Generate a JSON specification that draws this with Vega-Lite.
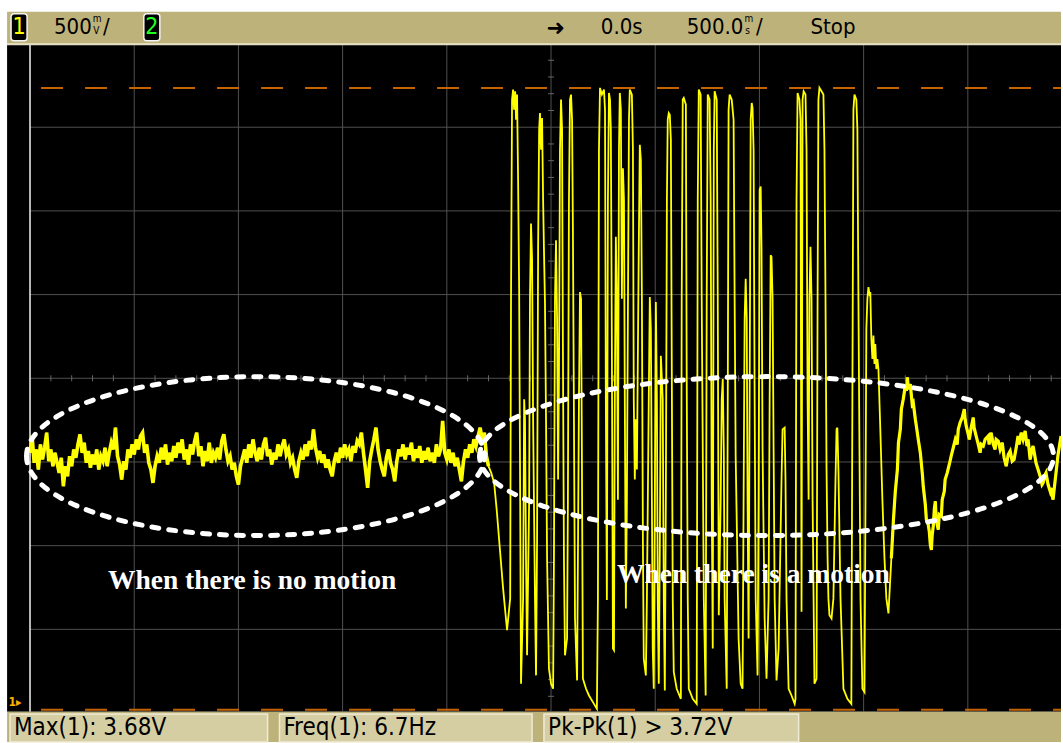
{
  "$schema": "https://vega.github.io/schema/vega-lite/v6.json",
  "width": 1063,
  "height": 743,
  "autosize": {"type": "fit", "contains": "padding"},
  "padding": 0,
  "background": "#ffffff",
  "config": {"view": {"stroke": null}},
  "datasets": {
    "trace": [
      {"t":-2.50,"v":1.50},{"t":-2.49,"v":1.60},{"t":-2.48,"v":1.44},{"t":-2.47,"v":1.52},{"t":-2.46,"v":1.40},{"t":-2.45,"v":1.55},{"t":-2.44,"v":1.46},{"t":-2.43,"v":1.53},{"t":-2.42,"v":1.62},{"t":-2.41,"v":1.45},
      {"t":-2.40,"v":1.52},{"t":-2.39,"v":1.42},{"t":-2.38,"v":1.50},{"t":-2.37,"v":1.44},{"t":-2.36,"v":1.38},{"t":-2.35,"v":1.47},{"t":-2.34,"v":1.30},{"t":-2.33,"v":1.42},{"t":-2.32,"v":1.36},{"t":-2.31,"v":1.48},
      {"t":-2.30,"v":1.42},{"t":-2.29,"v":1.52},{"t":-2.28,"v":1.47},{"t":-2.27,"v":1.55},{"t":-2.26,"v":1.61},{"t":-2.25,"v":1.50},{"t":-2.24,"v":1.56},{"t":-2.23,"v":1.44},{"t":-2.22,"v":1.51},{"t":-2.21,"v":1.41},
      {"t":-2.20,"v":1.49},{"t":-2.19,"v":1.43},{"t":-2.18,"v":1.52},{"t":-2.17,"v":1.40},{"t":-2.16,"v":1.48},{"t":-2.15,"v":1.45},{"t":-2.14,"v":1.53},{"t":-2.13,"v":1.42},{"t":-2.12,"v":1.50},{"t":-2.11,"v":1.56},
      {"t":-2.10,"v":1.52},{"t":-2.09,"v":1.65},{"t":-2.08,"v":1.48},{"t":-2.07,"v":1.43},{"t":-2.06,"v":1.34},{"t":-2.05,"v":1.45},{"t":-2.04,"v":1.40},{"t":-2.03,"v":1.52},{"t":-2.02,"v":1.47},{"t":-2.01,"v":1.55},
      {"t":-2.00,"v":1.49},{"t":-1.99,"v":1.58},{"t":-1.98,"v":1.52},{"t":-1.97,"v":1.60},{"t":-1.96,"v":1.62},{"t":-1.95,"v":1.50},{"t":-1.94,"v":1.55},{"t":-1.93,"v":1.44},{"t":-1.92,"v":1.40},{"t":-1.91,"v":1.32},
      {"t":-1.90,"v":1.42},{"t":-1.89,"v":1.48},{"t":-1.88,"v":1.44},{"t":-1.87,"v":1.53},{"t":-1.86,"v":1.46},{"t":-1.85,"v":1.55},{"t":-1.84,"v":1.43},{"t":-1.83,"v":1.50},{"t":-1.82,"v":1.45},{"t":-1.81,"v":1.54},
      {"t":-1.80,"v":1.47},{"t":-1.79,"v":1.56},{"t":-1.78,"v":1.50},{"t":-1.77,"v":1.58},{"t":-1.76,"v":1.46},{"t":-1.75,"v":1.52},{"t":-1.74,"v":1.43},{"t":-1.73,"v":1.55},{"t":-1.72,"v":1.49},{"t":-1.71,"v":1.57},
      {"t":-1.70,"v":1.62},{"t":-1.69,"v":1.48},{"t":-1.68,"v":1.54},{"t":-1.67,"v":1.42},{"t":-1.66,"v":1.51},{"t":-1.65,"v":1.45},{"t":-1.64,"v":1.56},{"t":-1.63,"v":1.44},{"t":-1.62,"v":1.50},{"t":-1.61,"v":1.47},
      {"t":-1.60,"v":1.53},{"t":-1.59,"v":1.46},{"t":-1.58,"v":1.57},{"t":-1.57,"v":1.61},{"t":-1.56,"v":1.52},{"t":-1.55,"v":1.45},{"t":-1.54,"v":1.48},{"t":-1.53,"v":1.40},{"t":-1.52,"v":1.44},{"t":-1.51,"v":1.36},
      {"t":-1.50,"v":1.31},{"t":-1.49,"v":1.42},{"t":-1.48,"v":1.47},{"t":-1.47,"v":1.52},{"t":-1.46,"v":1.44},{"t":-1.45,"v":1.55},{"t":-1.44,"v":1.47},{"t":-1.43,"v":1.58},{"t":-1.42,"v":1.50},{"t":-1.41,"v":1.45},
      {"t":-1.40,"v":1.53},{"t":-1.39,"v":1.46},{"t":-1.38,"v":1.55},{"t":-1.37,"v":1.59},{"t":-1.36,"v":1.48},{"t":-1.35,"v":1.52},{"t":-1.34,"v":1.43},{"t":-1.33,"v":1.50},{"t":-1.32,"v":1.46},{"t":-1.31,"v":1.55},
      {"t":-1.30,"v":1.48},{"t":-1.29,"v":1.54},{"t":-1.28,"v":1.58},{"t":-1.27,"v":1.49},{"t":-1.26,"v":1.52},{"t":-1.25,"v":1.44},{"t":-1.24,"v":1.47},{"t":-1.23,"v":1.40},{"t":-1.22,"v":1.35},{"t":-1.21,"v":1.45},
      {"t":-1.20,"v":1.50},{"t":-1.19,"v":1.46},{"t":-1.18,"v":1.55},{"t":-1.17,"v":1.48},{"t":-1.16,"v":1.57},{"t":-1.15,"v":1.52},{"t":-1.14,"v":1.64},{"t":-1.13,"v":1.53},{"t":-1.12,"v":1.47},{"t":-1.11,"v":1.51},
      {"t":-1.10,"v":1.44},{"t":-1.09,"v":1.49},{"t":-1.08,"v":1.41},{"t":-1.07,"v":1.46},{"t":-1.06,"v":1.40},{"t":-1.05,"v":1.36},{"t":-1.04,"v":1.45},{"t":-1.03,"v":1.50},{"t":-1.02,"v":1.44},{"t":-1.01,"v":1.53},
      {"t":-1.00,"v":1.47},{"t":-0.99,"v":1.55},{"t":-0.98,"v":1.49},{"t":-0.97,"v":1.52},{"t":-0.96,"v":1.45},{"t":-0.95,"v":1.54},{"t":-0.94,"v":1.50},{"t":-0.93,"v":1.57},{"t":-0.92,"v":1.55},{"t":-0.91,"v":1.62},
      {"t":-0.90,"v":1.50},{"t":-0.89,"v":1.40},{"t":-0.88,"v":1.29},{"t":-0.87,"v":1.45},{"t":-0.86,"v":1.52},{"t":-0.85,"v":1.58},{"t":-0.84,"v":1.65},{"t":-0.83,"v":1.52},{"t":-0.82,"v":1.45},{"t":-0.81,"v":1.40},
      {"t":-0.80,"v":1.36},{"t":-0.79,"v":1.47},{"t":-0.78,"v":1.52},{"t":-0.77,"v":1.44},{"t":-0.76,"v":1.40},{"t":-0.75,"v":1.33},{"t":-0.74,"v":1.45},{"t":-0.73,"v":1.52},{"t":-0.72,"v":1.48},{"t":-0.71,"v":1.55},
      {"t":-0.70,"v":1.46},{"t":-0.69,"v":1.53},{"t":-0.68,"v":1.49},{"t":-0.67,"v":1.56},{"t":-0.66,"v":1.45},{"t":-0.65,"v":1.52},{"t":-0.64,"v":1.47},{"t":-0.63,"v":1.54},{"t":-0.62,"v":1.44},{"t":-0.61,"v":1.51},
      {"t":-0.60,"v":1.46},{"t":-0.59,"v":1.53},{"t":-0.58,"v":1.45},{"t":-0.57,"v":1.50},{"t":-0.56,"v":1.44},{"t":-0.55,"v":1.55},{"t":-0.54,"v":1.48},{"t":-0.53,"v":1.52},{"t":-0.52,"v":1.69},{"t":-0.51,"v":1.50},
      {"t":-0.50,"v":1.46},{"t":-0.49,"v":1.52},{"t":-0.48,"v":1.44},{"t":-0.47,"v":1.50},{"t":-0.46,"v":1.42},{"t":-0.45,"v":1.47},{"t":-0.44,"v":1.40},{"t":-0.43,"v":1.33},{"t":-0.42,"v":1.45},{"t":-0.41,"v":1.52},
      {"t":-0.40,"v":1.47},{"t":-0.39,"v":1.55},{"t":-0.38,"v":1.50},{"t":-0.37,"v":1.58},{"t":-0.36,"v":1.54},{"t":-0.35,"v":1.60},{"t":-0.34,"v":1.65},{"t":-0.33,"v":1.57},{"t":-0.32,"v":1.62},{"t":-0.31,"v":1.48},
      {"t":-0.30,"v":1.42},{"t":-0.287,"v":1.38},{"t":-0.273,"v":1.32},{"t":-0.26,"v":1.15},{"t":-0.249,"v":0.98},{"t":-0.23,"v":0.69},{"t":-0.211,"v":0.44},
      {"t":-0.196,"v":0.63},{"t":-0.192,"v":2.42},{"t":-0.187,"v":3.61},{"t":-0.182,"v":3.67},{"t":-0.177,"v":3.55},{"t":-0.172,"v":3.66},{"t":-0.168,"v":3.49},{"t":-0.163,"v":3.64},{"t":-0.158,"v":3.13},{"t":-0.153,"v":2.48},
      {"t":-0.148,"v":1.22},{"t":-0.144,"v":0.12},{"t":-0.134,"v":0.63},{"t":-0.129,"v":1.82},{"t":-0.125,"v":1.70},{"t":-0.120,"v":0.87},{"t":-0.115,"v":0.29},{"t":-0.105,"v":1.22},{"t":-0.101,"v":2.42},{"t":-0.096,"v":2.87},
      {"t":-0.091,"v":2.66},{"t":-0.086,"v":1.70},{"t":-0.077,"v":0.63},{"t":-0.072,"v":0.17},{"t":-0.067,"v":0.98},{"t":-0.062,"v":2.72},{"t":-0.057,"v":3.43},{"t":-0.053,"v":3.53},{"t":-0.048,"v":3.31},{"t":-0.043,"v":3.50},
      {"t":-0.038,"v":3.01},{"t":-0.034,"v":2.72},{"t":-0.029,"v":2.39},{"t":-0.024,"v":1.70},{"t":-0.019,"v":0.87},{"t":-0.010,"v":0.21},{"t":0.0,"v":0.12},{"t":0.010,"v":0.09},{"t":0.014,"v":0.87},{"t":0.019,"v":2.42},
      {"t":0.024,"v":2.77},{"t":0.029,"v":2.30},{"t":0.034,"v":1.34},{"t":0.038,"v":1.94},{"t":0.043,"v":3.31},{"t":0.048,"v":3.61},{"t":0.053,"v":3.43},{"t":0.057,"v":2.12},{"t":0.062,"v":0.87},{"t":0.067,"v":0.29},
      {"t":0.077,"v":0.39},{"t":0.081,"v":1.22},{"t":0.086,"v":3.01},{"t":0.091,"v":3.61},{"t":0.096,"v":3.64},{"t":0.101,"v":3.49},{"t":0.105,"v":2.83},{"t":0.110,"v":1.70},{"t":0.115,"v":0.51},{"t":0.125,"v":0.14},
      {"t":0.129,"v":0.87},{"t":0.134,"v":1.82},{"t":0.139,"v":2.46},{"t":0.144,"v":2.42},{"t":0.148,"v":1.52},{"t":0.153,"v":0.15},{"t":0.168,"v":0.09},{"t":0.182,"v":0.05},{"t":0.201,"v":0.01},{"t":0.220,"v":-0.03},
      {"t":0.225,"v":0.63},{"t":0.230,"v":3.31},{"t":0.235,"v":3.68},{"t":0.244,"v":3.64},{"t":0.254,"v":3.67},{"t":0.259,"v":3.55},{"t":0.263,"v":1.82},{"t":0.268,"v":0.62},{"t":0.273,"v":3.01},{"t":0.278,"v":3.65},
      {"t":0.283,"v":3.61},{"t":0.287,"v":3.43},{"t":0.292,"v":2.12},{"t":0.297,"v":0.33},{"t":0.302,"v":0.32},{"t":0.306,"v":1.82},{"t":0.311,"v":2.79},{"t":0.316,"v":2.42},{"t":0.321,"v":1.22},{"t":0.326,"v":3.31},
      {"t":0.330,"v":3.65},{"t":0.335,"v":3.55},{"t":0.340,"v":2.42},{"t":0.345,"v":3.20},{"t":0.350,"v":3.01},{"t":0.354,"v":1.82},{"t":0.359,"v":0.57},{"t":0.364,"v":1.22},{"t":0.374,"v":3.49},{"t":0.378,"v":3.67},
      {"t":0.388,"v":3.64},{"t":0.393,"v":3.31},{"t":0.397,"v":1.82},{"t":0.402,"v":1.34},{"t":0.407,"v":1.70},{"t":0.412,"v":1.40},{"t":0.421,"v":2.72},{"t":0.426,"v":3.34},{"t":0.431,"v":3.25},{"t":0.436,"v":2.42},
      {"t":0.441,"v":0.92},{"t":0.445,"v":0.27},{"t":0.455,"v":0.17},{"t":0.460,"v":0.63},{"t":0.469,"v":1.82},{"t":0.474,"v":2.43},{"t":0.479,"v":2.24},{"t":0.484,"v":1.22},{"t":0.488,"v":0.33},{"t":0.493,"v":0.09},
      {"t":0.498,"v":1.22},{"t":0.503,"v":2.40},{"t":0.508,"v":1.82},{"t":0.512,"v":0.63},{"t":0.517,"v":0.12},{"t":0.522,"v":0.92},{"t":0.527,"v":2.08},{"t":0.532,"v":1.94},{"t":0.536,"v":1.82},{"t":0.541,"v":0.63},
      {"t":0.546,"v":0.08},{"t":0.551,"v":1.22},{"t":0.556,"v":3.01},{"t":0.560,"v":3.49},{"t":0.565,"v":3.53},{"t":0.570,"v":3.52},{"t":0.575,"v":3.37},{"t":0.579,"v":2.12},{"t":0.584,"v":0.63},{"t":0.589,"v":0.19},
      {"t":0.603,"v":0.09},{"t":0.623,"v":0.03},{"t":0.627,"v":2.42},{"t":0.632,"v":3.61},{"t":0.637,"v":3.62},{"t":0.647,"v":3.58},{"t":0.651,"v":1.94},{"t":0.656,"v":0.63},{"t":0.661,"v":0.09},{"t":0.680,"v":0.03},
      {"t":0.699,"v":0.0},{"t":0.704,"v":3.01},{"t":0.709,"v":3.67},{"t":0.718,"v":3.64},{"t":0.723,"v":2.42},{"t":0.733,"v":0.63},{"t":0.742,"v":0.05},{"t":0.747,"v":2.42},{"t":0.752,"v":3.64},{"t":0.761,"v":3.61},
      {"t":0.766,"v":3.01},{"t":0.771,"v":1.22},{"t":0.776,"v":0.33},{"t":0.781,"v":3.31},{"t":0.785,"v":3.66},{"t":0.795,"v":3.61},{"t":0.800,"v":2.42},{"t":0.805,"v":0.53},{"t":0.814,"v":1.22},{"t":0.819,"v":1.82},
      {"t":0.824,"v":1.94},{"t":0.829,"v":1.52},{"t":0.833,"v":0.63},{"t":0.843,"v":0.09},{"t":0.848,"v":1.82},{"t":0.852,"v":3.55},{"t":0.857,"v":3.64},{"t":0.867,"v":3.61},{"t":0.876,"v":3.49},{"t":0.881,"v":2.42},
      {"t":0.886,"v":1.48},{"t":0.891,"v":1.10},{"t":0.900,"v":0.39},{"t":0.910,"v":0.12},{"t":0.919,"v":0.09},{"t":0.924,"v":1.22},{"t":0.929,"v":2.30},{"t":0.934,"v":2.54},{"t":0.939,"v":2.30},{"t":0.943,"v":1.22},
      {"t":0.948,"v":0.39},{"t":0.953,"v":1.82},{"t":0.958,"v":3.49},{"t":0.963,"v":3.59},{"t":0.967,"v":3.56},{"t":0.972,"v":3.31},{"t":0.977,"v":1.82},{"t":0.982,"v":0.63},{"t":0.991,"v":0.17},{"t":0.996,"v":1.22},
      {"t":1.001,"v":3.07},{"t":1.006,"v":3.09},{"t":1.010,"v":2.72},{"t":1.015,"v":1.52},{"t":1.025,"v":0.51},{"t":1.034,"v":0.15},{"t":1.044,"v":0.63},{"t":1.049,"v":1.82},{"t":1.054,"v":2.68},{"t":1.058,"v":2.67},
      {"t":1.063,"v":2.42},{"t":1.068,"v":1.52},{"t":1.073,"v":0.63},{"t":1.082,"v":0.14},{"t":1.092,"v":0.33},{"t":1.106,"v":1.34},{"t":1.111,"v":1.64},{"t":1.121,"v":1.65},{"t":1.125,"v":1.34},{"t":1.130,"v":0.63},
      {"t":1.140,"v":0.09},{"t":1.154,"v":0.05},{"t":1.169,"v":0.0},{"t":1.173,"v":0.03},{"t":1.178,"v":3.01},{"t":1.183,"v":3.65},{"t":1.192,"v":3.61},{"t":1.197,"v":3.49},{"t":1.202,"v":0.55},{"t":1.207,"v":3.61},
      {"t":1.212,"v":3.66},{"t":1.221,"v":3.64},{"t":1.226,"v":3.31},{"t":1.231,"v":1.82},{"t":1.236,"v":1.22},{"t":1.240,"v":2.42},{"t":1.245,"v":2.73},{"t":1.250,"v":2.42},{"t":1.255,"v":1.22},{"t":1.264,"v":0.12},
      {"t":1.274,"v":0.15},{"t":1.279,"v":2.42},{"t":1.283,"v":3.61},{"t":1.288,"v":3.68},{"t":1.298,"v":3.66},{"t":1.307,"v":3.64},{"t":1.312,"v":3.31},{"t":1.317,"v":2.42},{"t":1.322,"v":1.40},{"t":1.327,"v":0.87},
      {"t":1.331,"v":0.63},{"t":1.336,"v":0.53},{"t":1.346,"v":0.51},{"t":1.355,"v":0.63},{"t":1.365,"v":1.34},{"t":1.370,"v":1.64},{"t":1.374,"v":1.65},{"t":1.379,"v":1.40},{"t":1.389,"v":0.63},{"t":1.403,"v":0.09},
      {"t":1.422,"v":0.03},{"t":1.441,"v":0.0},{"t":1.446,"v":1.82},{"t":1.451,"v":3.55},{"t":1.456,"v":3.64},{"t":1.465,"v":3.61},{"t":1.470,"v":3.43},{"t":1.475,"v":2.42},{"t":1.480,"v":1.52},{"t":1.485,"v":0.63},
      {"t":1.494,"v":0.09},{"t":1.504,"v":0.07},{"t":1.509,"v":1.22},{"t":1.513,"v":2.24},{"t":1.518,"v":2.42},{"t":1.523,"v":2.49},{"t":1.528,"v":2.45},{"t":1.532,"v":2.46},{"t":1.537,"v":2.18},{"t":1.542,"v":2.06},
      {"t":1.547,"v":2.20},{"t":1.552,"v":2.03},{"t":1.556,"v":2.15},{"t":1.561,"v":2.00},{"t":1.566,"v":2.06},{"t":1.571,"v":2.00},{"t":1.580,"v":1.64},{"t":1.590,"v":1.22},{"t":1.600,"v":0.87},{"t":1.609,"v":0.63},
      {"t":1.619,"v":0.54},{"t":1.633,"v":0.87},{"t":1.643,"v":1.10},{"t":1.652,"v":1.27},{"t":1.662,"v":1.40},{"t":1.667,"v":1.56},{"t":1.676,"v":1.64},{"t":1.681,"v":1.76},{"t":1.690,"v":1.82},{"t":1.700,"v":1.90},
      {"t":1.705,"v":1.87},{"t":1.710,"v":1.95},{"t":1.714,"v":1.88},{"t":1.724,"v":1.91},{"t":1.733,"v":1.79},{"t":1.738,"v":1.80},{"t":1.748,"v":1.70},{"t":1.753,"v":1.66},{"t":1.762,"v":1.58},{"t":1.772,"v":1.50},
      {"t":1.782,"v":1.37},{"t":1.786,"v":1.30},{"t":1.796,"v":1.19},{"t":1.801,"v":1.10},{"t":1.810,"v":1.07},{"t":1.815,"v":1.03},{"t":1.820,"v":0.95},{"t":1.825,"v":0.92},{"t":1.829,"v":1.01},{"t":1.834,"v":1.06},
      {"t":1.839,"v":1.16},{"t":1.844,"v":1.21},{"t":1.848,"v":1.10},{"t":1.858,"v":1.04},{"t":1.863,"v":1.13},{"t":1.873,"v":1.12},{"t":1.877,"v":1.22},{"t":1.887,"v":1.27},{"t":1.891,"v":1.34},{"t":1.901,"v":1.38},
      {"t":1.911,"v":1.43},{"t":1.920,"v":1.48},{"t":1.930,"v":1.53},{"t":1.940,"v":1.58},{"t":1.949,"v":1.55},{"t":1.954,"v":1.64},{"t":1.963,"v":1.68},{"t":1.973,"v":1.71},{"t":1.983,"v":1.76},{"t":1.987,"v":1.70},
      {"t":1.992,"v":1.66},{"t":2.002,"v":1.61},{"t":2.007,"v":1.58},{"t":2.016,"v":1.65},{"t":2.026,"v":1.71},{"t":2.030,"v":1.65},{"t":2.040,"v":1.60},{"t":2.050,"v":1.55},{"t":2.059,"v":1.50},{"t":2.064,"v":1.55},
      {"t":2.074,"v":1.54},{"t":2.083,"v":1.58},{"t":2.098,"v":1.60},{"t":2.102,"v":1.55},{"t":2.112,"v":1.62},{"t":2.122,"v":1.55},{"t":2.131,"v":1.52},{"t":2.136,"v":1.58},{"t":2.146,"v":1.57},{"t":2.155,"v":1.52},
      {"t":2.165,"v":1.56},{"t":2.174,"v":1.47},{"t":2.184,"v":1.42},{"t":2.194,"v":1.49},{"t":2.203,"v":1.51},{"t":2.213,"v":1.45},{"t":2.222,"v":1.46},{"t":2.232,"v":1.53},{"t":2.241,"v":1.60},{"t":2.246,"v":1.55},
      {"t":2.256,"v":1.62},{"t":2.265,"v":1.58},{"t":2.275,"v":1.63},{"t":2.284,"v":1.54},{"t":2.289,"v":1.58},{"t":2.299,"v":1.46},{"t":2.308,"v":1.52},{"t":2.313,"v":1.54},{"t":2.323,"v":1.47},{"t":2.327,"v":1.44},
      {"t":2.337,"v":1.40},{"t":2.347,"v":1.36},{"t":2.356,"v":1.31},{"t":2.361,"v":1.32},{"t":2.371,"v":1.37},{"t":2.375,"v":1.38},{"t":2.385,"v":1.31},{"t":2.395,"v":1.27},{"t":2.399,"v":1.29},{"t":2.409,"v":1.22},
      {"t":2.414,"v":1.28},{"t":2.423,"v":1.38},{"t":2.433,"v":1.49},{"t":2.442,"v":1.56},{"t":2.447,"v":1.60}
    ],
    "hticks": [
      {"t":-2.4,"v0":1.927,"v1":1.963},{"t":-2.3,"v0":1.927,"v1":1.963},{"t":-2.2,"v0":1.927,"v1":1.963},{"t":-2.1,"v0":1.927,"v1":1.963},
      {"t":-1.9,"v0":1.927,"v1":1.963},{"t":-1.8,"v0":1.927,"v1":1.963},{"t":-1.7,"v0":1.927,"v1":1.963},{"t":-1.6,"v0":1.927,"v1":1.963},
      {"t":-1.4,"v0":1.927,"v1":1.963},{"t":-1.3,"v0":1.927,"v1":1.963},{"t":-1.2,"v0":1.927,"v1":1.963},{"t":-1.1,"v0":1.927,"v1":1.963},
      {"t":-0.9,"v0":1.927,"v1":1.963},{"t":-0.8,"v0":1.927,"v1":1.963},{"t":-0.7,"v0":1.927,"v1":1.963},{"t":-0.6,"v0":1.927,"v1":1.963},
      {"t":-0.4,"v0":1.927,"v1":1.963},{"t":-0.3,"v0":1.927,"v1":1.963},{"t":-0.2,"v0":1.927,"v1":1.963},{"t":-0.1,"v0":1.927,"v1":1.963},
      {"t":0.1,"v0":1.927,"v1":1.963},{"t":0.2,"v0":1.927,"v1":1.963},{"t":0.3,"v0":1.927,"v1":1.963},{"t":0.4,"v0":1.927,"v1":1.963},
      {"t":0.6,"v0":1.927,"v1":1.963},{"t":0.7,"v0":1.927,"v1":1.963},{"t":0.8,"v0":1.927,"v1":1.963},{"t":0.9,"v0":1.927,"v1":1.963},
      {"t":1.1,"v0":1.927,"v1":1.963},{"t":1.2,"v0":1.927,"v1":1.963},{"t":1.3,"v0":1.927,"v1":1.963},{"t":1.4,"v0":1.927,"v1":1.963},
      {"t":1.6,"v0":1.927,"v1":1.963},{"t":1.7,"v0":1.927,"v1":1.963},{"t":1.8,"v0":1.927,"v1":1.963},{"t":1.9,"v0":1.927,"v1":1.963},
      {"t":2.1,"v0":1.927,"v1":1.963},{"t":2.2,"v0":1.927,"v1":1.963},{"t":2.3,"v0":1.927,"v1":1.963},{"t":2.4,"v0":1.927,"v1":1.963}
    ],
    "vticks": [
      {"v":0.045,"t0":-0.0144,"t1":0.0144},{"v":0.145,"t0":-0.0144,"t1":0.0144},{"v":0.245,"t0":-0.0144,"t1":0.0144},{"v":0.345,"t0":-0.0144,"t1":0.0144},
      {"v":0.545,"t0":-0.0144,"t1":0.0144},{"v":0.645,"t0":-0.0144,"t1":0.0144},{"v":0.745,"t0":-0.0144,"t1":0.0144},{"v":0.845,"t0":-0.0144,"t1":0.0144},
      {"v":1.045,"t0":-0.0144,"t1":0.0144},{"v":1.145,"t0":-0.0144,"t1":0.0144},{"v":1.245,"t0":-0.0144,"t1":0.0144},{"v":1.345,"t0":-0.0144,"t1":0.0144},
      {"v":1.545,"t0":-0.0144,"t1":0.0144},{"v":1.645,"t0":-0.0144,"t1":0.0144},{"v":1.745,"t0":-0.0144,"t1":0.0144},{"v":1.845,"t0":-0.0144,"t1":0.0144},
      {"v":2.045,"t0":-0.0144,"t1":0.0144},{"v":2.145,"t0":-0.0144,"t1":0.0144},{"v":2.245,"t0":-0.0144,"t1":0.0144},{"v":2.345,"t0":-0.0144,"t1":0.0144},
      {"v":2.545,"t0":-0.0144,"t1":0.0144},{"v":2.645,"t0":-0.0144,"t1":0.0144},{"v":2.745,"t0":-0.0144,"t1":0.0144},{"v":2.845,"t0":-0.0144,"t1":0.0144},
      {"v":3.045,"t0":-0.0144,"t1":0.0144},{"v":3.145,"t0":-0.0144,"t1":0.0144},{"v":3.245,"t0":-0.0144,"t1":0.0144},{"v":3.345,"t0":-0.0144,"t1":0.0144},
      {"v":3.545,"t0":-0.0144,"t1":0.0144},{"v":3.645,"t0":-0.0144,"t1":0.0144},{"v":3.745,"t0":-0.0144,"t1":0.0144},{"v":3.845,"t0":-0.0144,"t1":0.0144}
    ]
  },
  "layer": [
    {
      "data": {"values": [{"t0":-2.61,"t1":2.447,"v0":-0.048,"v1":3.938}]},
      "mark": {"type": "rect", "fill": "#000000"},
      "encoding": {
        "x": {"field": "t0", "type": "quantitative", "scale": {"domain": [-2.644, 2.447], "nice": false, "zero": false}, "axis": null},
        "x2": {"field": "t1"},
        "y": {"field": "v0", "type": "quantitative", "scale": {"domain": [-0.228, 4.205], "nice": false, "zero": false}, "axis": null},
        "y2": {"field": "v1"}
      }
    },
    {
      "data": {"values": [{"t":-2.0,"v0":-0.048,"v1":3.938},{"t":-1.5,"v0":-0.048,"v1":3.938},{"t":-1.0,"v0":-0.048,"v1":3.938},{"t":-0.5,"v0":-0.048,"v1":3.938},{"t":0.0,"v0":-0.048,"v1":3.938},{"t":0.5,"v0":-0.048,"v1":3.938},{"t":1.0,"v0":-0.048,"v1":3.938},{"t":1.5,"v0":-0.048,"v1":3.938},{"t":2.0,"v0":-0.048,"v1":3.938}]},
      "mark": {"type": "rule", "stroke": "#505050", "strokeWidth": 1},
      "encoding": {
        "x": {"field": "t", "type": "quantitative", "axis": null},
        "y": {"field": "v0", "type": "quantitative", "axis": null},
        "y2": {"field": "v1"}
      }
    },
    {
      "data": {"values": [{"v":3.445,"t0":-2.5,"t1":2.447},{"v":2.945,"t0":-2.5,"t1":2.447},{"v":2.445,"t0":-2.5,"t1":2.447},{"v":1.945,"t0":-2.5,"t1":2.447},{"v":1.445,"t0":-2.5,"t1":2.447},{"v":0.945,"t0":-2.5,"t1":2.447},{"v":0.445,"t0":-2.5,"t1":2.447}]},
      "mark": {"type": "rule", "stroke": "#505050", "strokeWidth": 1},
      "encoding": {
        "x": {"field": "t0", "type": "quantitative", "axis": null},
        "x2": {"field": "t1"},
        "y": {"field": "v", "type": "quantitative", "axis": null}
      }
    },
    {
      "data": {"name": "hticks"},
      "mark": {"type": "rule", "stroke": "#666666", "strokeWidth": 1},
      "encoding": {
        "x": {"field": "t", "type": "quantitative", "axis": null},
        "y": {"field": "v0", "type": "quantitative", "axis": null},
        "y2": {"field": "v1"}
      }
    },
    {
      "data": {"name": "vticks"},
      "mark": {"type": "rule", "stroke": "#666666", "strokeWidth": 1},
      "encoding": {
        "x": {"field": "t0", "type": "quantitative", "axis": null},
        "x2": {"field": "t1"},
        "y": {"field": "v", "type": "quantitative", "axis": null}
      }
    },
    {
      "data": {"values": [{"t":-2.5,"v0":-0.048,"v1":3.938}]},
      "mark": {"type": "rule", "stroke": "#f2f2f2", "strokeWidth": 1.5},
      "encoding": {
        "x": {"field": "t", "type": "quantitative", "axis": null},
        "y": {"field": "v0", "type": "quantitative", "axis": null},
        "y2": {"field": "v1"}
      }
    },
    {
      "data": {"values": [{"v":3.68,"t0":-2.447,"t1":2.447},{"v":-0.035,"t0":-2.447,"t1":2.447}]},
      "mark": {"type": "rule", "stroke": "#c86400", "strokeWidth": 2, "strokeDash": [22, 22]},
      "encoding": {
        "x": {"field": "t0", "type": "quantitative", "axis": null},
        "x2": {"field": "t1"},
        "y": {"field": "v", "type": "quantitative", "axis": null}
      }
    },
    {
      "data": {"name": "trace"},
      "mark": {"type": "line", "stroke": "#ffff00", "strokeWidth": 1.8, "clip": true},
      "encoding": {
        "x": {"field": "t", "type": "quantitative", "axis": null},
        "y": {"field": "v", "type": "quantitative", "axis": null}
      }
    },
    {
      "data": {"name": "trace"},
      "transform": [{"filter": "datum.t <= -0.3"}],
      "mark": {"type": "line", "stroke": "#ffff00", "strokeWidth": 3.6, "clip": true},
      "encoding": {
        "x": {"field": "t", "type": "quantitative", "axis": null},
        "y": {"field": "v", "type": "quantitative", "axis": null}
      }
    },
    {
      "data": {"name": "trace"},
      "transform": [{"filter": "datum.t >= 1.62"}],
      "mark": {"type": "line", "stroke": "#ffff00", "strokeWidth": 3.2, "clip": true},
      "encoding": {
        "x": {"field": "t", "type": "quantitative", "axis": null},
        "y": {"field": "v", "type": "quantitative", "axis": null}
      }
    },
    {
      "data": {"values": [{"t":-1.418,"v":1.48}]},
      "mark": {"type": "point", "shape": "M-1,0 C-1,-0.192 -0.552,-0.347 0,-0.347 C0.552,-0.347 1,-0.192 1,0 C1,0.192 0.552,0.347 0,0.347 C-0.552,0.347 -1,0.192 -1,0 Z", "size": 209764, "filled": false, "stroke": "#ffffff", "strokeWidth": 5, "strokeDash": [7, 10], "strokeCap": "round", "opacity": 1},
      "encoding": {
        "x": {"field": "t", "type": "quantitative", "axis": null},
        "y": {"field": "v", "type": "quantitative", "axis": null}
      }
    },
    {
      "data": {"values": [{"t":1.034,"v":1.48}]},
      "mark": {"type": "point", "shape": "M-1,0 C-1,-0.153 -0.552,-0.277 0,-0.277 C0.552,-0.277 1,-0.153 1,0 C1,0.153 0.552,0.277 0,0.277 C-0.552,0.277 -1,0.153 -1,0 Z", "size": 329476, "filled": false, "stroke": "#ffffff", "strokeWidth": 5, "strokeDash": [7, 10], "strokeCap": "round", "opacity": 1},
      "encoding": {
        "x": {"field": "t", "type": "quantitative", "axis": null},
        "y": {"field": "v", "type": "quantitative", "axis": null}
      }
    },
    {
      "data": {"values": [{"t":-2.126,"v":0.686,"label":"When there is no motion"},{"t":0.316,"v":0.722,"label":"When there is a motion"}]},
      "mark": {"type": "text", "align": "left", "baseline": "alphabetic", "font": "Liberation Serif", "fontWeight": "bold", "fontSize": 27.5, "fill": "#ffffff"},
      "encoding": {
        "x": {"field": "t", "type": "quantitative", "axis": null},
        "y": {"field": "v", "type": "quantitative", "axis": null},
        "text": {"field": "label"}
      }
    },
    {
      "data": {"values": [{"t0":-2.61,"t1":2.447,"v0":3.944,"v1":4.135},{"t0":-2.61,"t1":2.447,"v0":-0.228,"v1":-0.048}]},
      "mark": {"type": "rect", "fill": "#bdb27a"},
      "encoding": {
        "x": {"field": "t0", "type": "quantitative", "axis": null},
        "x2": {"field": "t1"},
        "y": {"field": "v0", "type": "quantitative", "axis": null},
        "y2": {"field": "v1"}
      }
    },
    {
      "data": {"values": [{"t0":-2.61,"t1":2.447,"v":3.941}]},
      "mark": {"type": "rule", "stroke": "#e4dfc3", "strokeWidth": 2},
      "encoding": {
        "x": {"field": "t0", "type": "quantitative", "axis": null},
        "x2": {"field": "t1"},
        "y": {"field": "v", "type": "quantitative", "axis": null}
      }
    },
    {
      "data": {"values": [{"t0":-2.596,"t1":-1.36,"v0":-0.228,"v1":-0.06},{"t0":-1.303,"t1":-0.091,"v0":-0.228,"v1":-0.06},{"t0":-0.034,"t1":1.188,"v0":-0.228,"v1":-0.06}]},
      "mark": {"type": "rect", "fill": "#d5cea3", "stroke": "#efebd8", "strokeWidth": 1.5},
      "encoding": {
        "x": {"field": "t0", "type": "quantitative", "axis": null},
        "x2": {"field": "t1"},
        "y": {"field": "v0", "type": "quantitative", "axis": null},
        "y2": {"field": "v1"}
      }
    },
    {
      "data": {"values": [{"t0":-2.591,"t1":-2.514,"v0":3.962,"v1":4.123},{"t0":-1.954,"t1":-1.877,"v0":3.962,"v1":4.123}]},
      "mark": {"type": "rect", "fill": "#000000", "stroke": "#f4f4f4", "strokeWidth": 1.5, "cornerRadius": 3},
      "encoding": {
        "x": {"field": "t0", "type": "quantitative", "axis": null},
        "x2": {"field": "t1"},
        "y": {"field": "v0", "type": "quantitative", "axis": null},
        "y2": {"field": "v1"}
      }
    },
    {
      "data": {"values": [{"t":-2.553,"v":4.043,"ch":"1"}]},
      "mark": {"type": "text", "align": "center", "baseline": "middle", "font": "DejaVu Sans Condensed, Liberation Sans Narrow, DejaVu Sans", "fontSize": 23, "fill": "#ffff00"},
      "encoding": {
        "x": {"field": "t", "type": "quantitative", "axis": null},
        "y": {"field": "v", "type": "quantitative", "axis": null},
        "text": {"field": "ch"}
      }
    },
    {
      "data": {"values": [{"t":-1.916,"v":4.043,"ch":"2"}]},
      "mark": {"type": "text", "align": "center", "baseline": "middle", "font": "DejaVu Sans Condensed, Liberation Sans Narrow, DejaVu Sans", "fontSize": 23, "fill": "#22ff22"},
      "encoding": {
        "x": {"field": "t", "type": "quantitative", "axis": null},
        "y": {"field": "v", "type": "quantitative", "axis": null},
        "text": {"field": "ch"}
      }
    },
    {
      "data": {"values": [
        {"t":-2.385,"v":4.046,"label":"500"},
        {"t":-2.150,"v":4.046,"label":"/"},
        {"t":0.239,"v":4.046,"label":"0.0s"},
        {"t":0.651,"v":4.046,"label":"500.0"},
        {"t":0.984,"v":4.046,"label":"/"},
        {"t":1.245,"v":4.046,"label":"Stop"}
      ]},
      "mark": {"type": "text", "align": "left", "baseline": "middle", "font": "DejaVu Sans Condensed, Liberation Sans Narrow, DejaVu Sans", "fontSize": 22, "fill": "#000000"},
      "encoding": {
        "x": {"field": "t", "type": "quantitative", "axis": null},
        "y": {"field": "v", "type": "quantitative", "axis": null},
        "text": {"field": "label"}
      }
    },
    {
      "data": {"values": [
        {"t":-2.199,"v":4.090,"label":"m"},
        {"t":-2.197,"v":4.020,"label":"V"},
        {"t":0.928,"v":4.090,"label":"m"},
        {"t":0.932,"v":4.020,"label":"s"}
      ]},
      "mark": {"type": "text", "align": "left", "baseline": "middle", "font": "DejaVu Sans Condensed, Liberation Sans Narrow, DejaVu Sans", "fontSize": 10, "fill": "#000000"},
      "encoding": {
        "x": {"field": "t", "type": "quantitative", "axis": null},
        "y": {"field": "v", "type": "quantitative", "axis": null},
        "text": {"field": "label"}
      }
    },
    {
      "data": {"values": [{"t":-0.022,"v":4.040,"label":"➜"}]},
      "mark": {"type": "text", "align": "left", "baseline": "middle", "font": "DejaVu Sans", "fontSize": 22, "fontWeight": "bold", "fill": "#000000"},
      "encoding": {
        "x": {"field": "t", "type": "quantitative", "axis": null},
        "y": {"field": "v", "type": "quantitative", "axis": null},
        "text": {"field": "label"}
      }
    },
    {
      "data": {"values": [
        {"t":-2.577,"v":-0.143,"label":"Max(1): 3.68V"},
        {"t":-1.284,"v":-0.143,"label":"Freq(1): 6.7Hz"},
        {"t":-0.014,"v":-0.143,"label":"Pk-Pk(1) > 3.72V"}
      ]},
      "mark": {"type": "text", "align": "left", "baseline": "middle", "font": "DejaVu Sans Condensed, Liberation Sans Narrow, DejaVu Sans", "fontSize": 24, "fill": "#000000"},
      "encoding": {
        "x": {"field": "t", "type": "quantitative", "axis": null},
        "y": {"field": "v", "type": "quantitative", "axis": null},
        "text": {"field": "label"}
      }
    },
    {
      "data": {"values": [{"t":-2.603,"v":0.01,"label":"1▸"}]},
      "mark": {"type": "text", "align": "left", "baseline": "middle", "font": "DejaVu Sans Condensed, DejaVu Sans", "fontSize": 12, "fontWeight": "bold", "fill": "#ffb000"},
      "encoding": {
        "x": {"field": "t", "type": "quantitative", "axis": null},
        "y": {"field": "v", "type": "quantitative", "axis": null},
        "text": {"field": "label"}
      }
    }
  ]
}
